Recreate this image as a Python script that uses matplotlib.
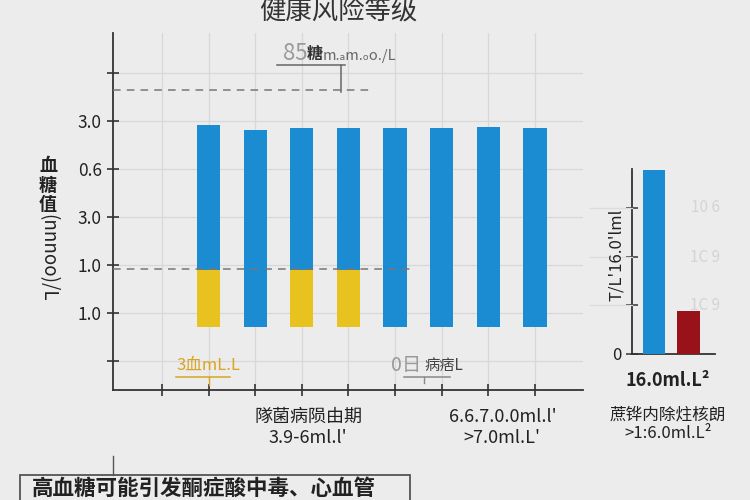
import matplotlib
matplotlib.use("Agg")
import matplotlib.pyplot as plt
from matplotlib.lines import Line2D
from matplotlib.patches import Rectangle

plt.rcParams['font.family'] = ['Noto Sans CJK SC', 'DejaVu Sans']

# ---------------- data ----------------
title = "健康风险等级"
bar_pos = [1, 2, 3, 4, 5, 6, 7, 8]
bar_top = [4.92, 4.81, 4.85, 4.85, 4.85, 4.85, 4.875, 4.85]
yellow_flag = [1, 0, 1, 1, 0, 0, 0, 0]
yellow_top = 1.9
bar_base = 0.71
y_ticks = [0, 1, 2, 3, 4, 5, 6]
y_ticklabels = ["", "1.0", "1.0", "3.0", "0.6", "3.0", ""]
x_ticks = [0, 1, 2, 3, 4, 5, 6, 7, 8]
dash_levels = [5.65, 1.92]

inset_cats = [0, 1]
inset_vals = [3.77, 0.89]
inset_ticks = [0, 1, 2, 3]
inset_ticklabels = ["0", "", "", ""]

BLUE = "#1b8bd2"
YELLOW = "#e8c21e"
RED = "#9a1219"
BG = "#ececec"
DARK = "#222222"

W, H = 750, 500
fig = plt.figure(figsize=(7.5, 5), dpi=100, facecolor=BG)


def px(x, y):
    return x / W, 1 - y / H


# ---------------- main axes ----------------
ax = fig.add_axes([113 / W, 1 - 390 / H, (583 - 113) / W, (390 - 33) / H])
ax.set_facecolor(BG)
ax.set_xlim(-1.05, 9.03)
ax.set_ylim(-0.6, 6.83)

blue_bottoms = [yellow_top if f else bar_base for f in yellow_flag]
blue_heights = [t - b for t, b in zip(bar_top, blue_bottoms)]
ax.bar(bar_pos, blue_heights, bottom=blue_bottoms, width=0.5, color=BLUE, zorder=3)
yx = [p for p, f in zip(bar_pos, yellow_flag) if f]
ax.bar(yx, [yellow_top - bar_base] * len(yx), bottom=bar_base, width=0.5,
       color=YELLOW, zorder=3)

ax.set_yticks(y_ticks)
ax.set_yticklabels(y_ticklabels, fontsize=12.5, color=DARK)
ax.set_xticks(x_ticks)
ax.set_xticklabels([""] * len(x_ticks))
ax.tick_params(axis='both', direction='inout', length=9, width=1.2, color="#333333")
ax.grid(True, color="#d8d8d8", linewidth=0.9, zorder=0)
for s in ["top", "right"]:
    ax.spines[s].set_visible(False)
for s in ["left", "bottom"]:
    ax.spines[s].set_color("#333333")
    ax.spines[s].set_linewidth(1.3)

# dashed reference lines
ax.plot([-1.05, 4.43], [dash_levels[0]] * 2, ls=(0, (5, 4)), color="#777777", lw=1.1, zorder=4)
ax.plot([-1.05, 5.32], [dash_levels[1]] * 2, ls=(0, (5, 4)), color="#777777", lw=1.1, zorder=4)

# annotation near top
fig.text(*px(283, 53), "85", fontsize=16, color="#9a9a9a", va="center", ha="left")
fig.text(*px(307, 54), "糖", fontsize=11.5, color="#333333", weight="bold", va="center", ha="left")
fig.text(*px(323, 56), "m.ₐm.ₒo./L", fontsize=10.5, color="#666666", va="center", ha="left")
fig.add_artist(Line2D([277 / W, 345 / W], [1 - 65 / H, 1 - 65 / H], color="#666666", lw=1.1))
fig.add_artist(Line2D([341 / W, 341 / W], [1 - 65 / H, 1 - 92 / H], color="#666666", lw=1.1))

# annotation low left (gold)
fig.text(*px(176, 365), "3血mL.L", fontsize=12, color="#d9a520", va="center", ha="left")
fig.add_artist(Line2D([176 / W, 230 / W], [1 - 377 / H, 1 - 377 / H], color="#d9a520", lw=1.1))
fig.add_artist(Line2D([209 / W, 209 / W], [1 - 377 / H, 1 - 385 / H], color="#d9a520", lw=1.0))

# annotation low middle (gray)
fig.text(*px(391, 365), "0日", fontsize=14, color="#999999", va="center", ha="left")
fig.text(*px(424, 365), "病痞L", fontsize=11, color="#444444", va="center", ha="left")
fig.add_artist(Line2D([404 / W, 450 / W], [1 - 377 / H, 1 - 377 / H], color="#888888", lw=1.1))
fig.add_artist(Line2D([424 / W, 424 / W], [1 - 377 / H, 1 - 383 / H], color="#888888", lw=1.0))

# y label
fig.text(*px(48, 185), "血\n糖\n值", fontsize=13, weight="bold", color=DARK,
         ha="center", va="center", linespacing=1.0)
fig.text(*px(48, 258), "(nnnoo)/L", fontsize=13.5, color=DARK, rotation=-90,
         ha="center", va="center")

# x labels
fig.text(*px(308, 417), "隊菌病陨由期", fontsize=13, color=DARK, ha="center", va="center")
fig.text(*px(308, 438), "3.9-6ml.l'", fontsize=13, color=DARK, ha="center", va="center")
fig.text(*px(503, 417), "6.6.7.0.0ml.l'", fontsize=13, color=DARK, ha="center", va="center")
fig.text(*px(502, 438), ">7.0ml.L'", fontsize=13, color=DARK, ha="center", va="center")

# title
fig.text(*px(338, 12), title, fontsize=19, color="#333333", ha="center", va="center")

# ---------------- inset ----------------
ax2 = fig.add_axes([632 / W, 1 - 354 / H, (715 - 632) / W, (354 - 169) / H])
ax2.set_facecolor(BG)
ax2.set_xlim(-0.64, 1.77)
ax2.set_ylim(0, 3.8)
ax2.bar(inset_cats, inset_vals, width=0.66, color=[BLUE, RED], zorder=3)
ax2.set_yticks(inset_ticks)
ax2.set_yticklabels(inset_ticklabels, fontsize=12, color=DARK)
ax2.set_xticks([])
ax2.tick_params(axis='y', direction='inout', length=8, width=1.1, color="#333333")
for s in ["top", "right"]:
    ax2.spines[s].set_visible(False)
for s in ["left", "bottom"]:
    ax2.spines[s].set_color("#333333")
    ax2.spines[s].set_linewidth(1.3)
for yy, lab in zip([208, 257, 305], ["10 6", "1C 9", "1C 9"]):
    fig.text(*px(705, yy), lab, fontsize=11, color="#d4d4d4", ha="center", va="center")
    fig.add_artist(Line2D([590 / W, 632 / W], [1 - yy / H] * 2, color="#dcdcdc", lw=0.9))

fig.text(*px(617, 255), "T/L'16.0'lml", fontsize=12, color=DARK, rotation=90,
         ha="center", va="center")
fig.text(*px(668, 381), "16.0ml.L²", fontsize=13, weight="bold", color=DARK,
         ha="center", va="center")
fig.text(*px(668, 415), "蔗铧内除炷核朗", fontsize=12, color=DARK, ha="center", va="center")
fig.text(*px(668, 434), ">1:6.0ml.L²", fontsize=12, color=DARK, ha="center", va="center")

# ---------------- bottom box ----------------
fig.add_artist(Line2D([113 / W, 113 / W], [1 - 456 / H, 1 - 475 / H], color="#555555", lw=1.0))
fig.add_artist(Rectangle((20 / W, -0.01), (410 - 20) / W, (500 - 475) / H + 0.01,
                         transform=fig.transFigure, facecolor="none",
                         edgecolor="#555555", lw=1.3))
fig.text(*px(32, 488), "高血糖可能引发酮症酸中毒、心血管", fontsize=15.5, weight="bold",
         color=DARK, ha="left", va="center")

fig.savefig("out.png", dpi=100, facecolor=BG)
